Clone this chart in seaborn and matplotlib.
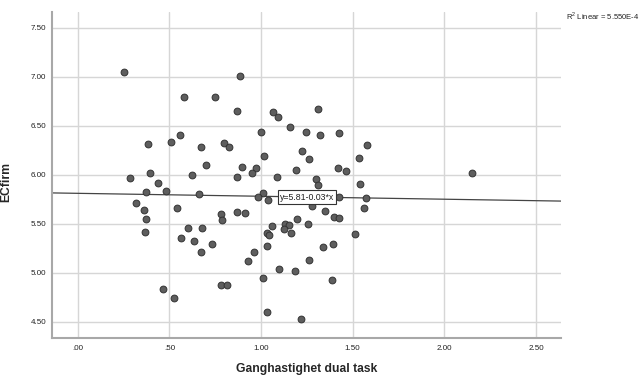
import matplotlib
matplotlib.use("Agg")
import matplotlib.pyplot as plt
import seaborn as sns
import pandas as pd

# Walking speed under dual task vs. ECfirm score
gait_speed = [
    0.251, 0.578, 0.751, 0.885, 0.869, 1.066, 1.094, 1.309, 1.160, 1.000,
    1.247, 1.324, 1.426, 1.579, 1.537, 0.556, 0.383, 0.507, 0.672, 0.798,
    0.825, 1.222, 1.016, 1.260, 0.698, 0.898, 0.971, 0.949, 1.193, 1.422,
    1.466, 2.153, 0.394, 0.625, 0.285, 0.869, 1.087, 1.300, 1.309, 0.439,
    1.542, 0.372, 0.481, 0.660, 1.013, 0.982, 1.040, 1.426, 1.573, 0.319,
    0.361, 0.540, 1.277, 1.561, 1.349, 0.371, 0.780, 0.789, 0.867, 0.913,
    1.400, 1.427, 1.197, 0.368, 0.603, 0.676, 0.562, 0.634, 0.734, 0.671,
    1.062, 1.133, 1.153, 1.127, 1.258, 1.034, 1.045, 1.162, 1.511, 1.033,
    1.337, 1.395, 0.960, 0.929, 1.264, 1.098, 1.186, 1.009, 1.389, 0.782,
    0.814, 0.463, 0.525, 1.034, 1.217,
]
ecfirm = [
    7.051, 6.793, 6.796, 7.004, 6.650, 6.640, 6.586, 6.667, 6.490, 6.439,
    6.436, 6.408, 6.422, 6.306, 6.170, 6.402, 6.310, 6.337, 6.286, 6.320,
    6.286, 6.242, 6.188, 6.157, 6.096, 6.076, 6.068, 6.017, 6.051, 6.071,
    6.038, 6.020, 6.020, 5.997, 5.969, 5.973, 5.973, 5.956, 5.895, 5.915,
    5.905, 5.820, 5.837, 5.800, 5.813, 5.772, 5.739, 5.772, 5.759, 5.714,
    5.643, 5.660, 5.678, 5.663, 5.630, 5.551, 5.596, 5.535, 5.622, 5.609,
    5.568, 5.561, 5.548, 5.418, 5.459, 5.459, 5.357, 5.320, 5.296, 5.207,
    5.480, 5.497, 5.487, 5.449, 5.500, 5.408, 5.388, 5.405, 5.398, 5.269,
    5.262, 5.290, 5.208, 5.116, 5.127, 5.035, 5.014, 4.949, 4.922, 4.874,
    4.871, 4.831, 4.739, 4.602, 4.524,
]

# Linear fit
intercept = 5.81
slope = -0.03
r2_text = "R$^{2}$ Linear = 5.550E-4"

x_ticks = [0.0, 0.5, 1.0, 1.5, 2.0, 2.5]
x_tick_labels = [".00", ".50", "1.00", "1.50", "2.00", "2.50"]
y_ticks = [4.5, 5.0, 5.5, 6.0, 6.5, 7.0, 7.5]
y_tick_labels = ["4.50", "5.00", "5.50", "6.00", "6.50", "7.00", "7.50"]

df = pd.DataFrame({"Ganghastighet dual task": gait_speed, "ECfirm": ecfirm})

sns.set_style("white")
plt.rcParams["font.family"] = ["Liberation Sans", "DejaVu Sans"]
plt.rcParams["mathtext.fontset"] = "custom"
plt.rcParams["mathtext.rm"] = "Liberation Sans"

fig = plt.figure(figsize=(6.39, 3.79), dpi=100)
ax = fig.add_axes([52 / 639, 1 - 338 / 379, (561 - 52) / 639, (338 - 12) / 379])

ax.set_xlim(-0.141, 2.637)
ax.set_ylim(4.334, 7.66)

ax.set_xticks(x_ticks)
ax.set_xticklabels(x_tick_labels)
ax.set_yticks(y_ticks)
ax.set_yticklabels(y_tick_labels)
ax.tick_params(axis="both", length=0, labelsize=5.8, colors="#222222")
ax.tick_params(axis="y", pad=4)
ax.tick_params(axis="x", pad=5)

ax.grid(True, color="#d6d6d6", linewidth=1.0)
ax.set_axisbelow(True)

for side in ["top", "right"]:
    ax.spines[side].set_visible(False)
for side in ["left", "bottom"]:
    ax.spines[side].set_color("#a8a8a8")
    ax.spines[side].set_linewidth(1.5)

# Regression line across the whole axis
ax.axline((0, intercept), slope=slope, color="#444444", linewidth=0.9, zorder=2)

sns.scatterplot(
    data=df, x="Ganghastighet dual task", y="ECfirm", ax=ax,
    s=24, color="#5e5e5e", edgecolor="#333333", linewidth=0.7, zorder=3,
)

# Equation label sitting on the fit line
lx = 1.25
ax.text(
    lx, intercept + slope * lx, "y=5.81-0.03*x",
    fontsize=6.3, ha="center", va="center", color="#222222", zorder=4,
    bbox=dict(boxstyle="square,pad=0.25", facecolor="white",
              edgecolor="#333333", linewidth=0.8),
)

ax.set_xlabel("Ganghastighet dual task", fontsize=8.7, fontweight="bold")
ax.set_ylabel("ECfirm", fontsize=8.7, fontweight="bold")
ax.xaxis.set_label_coords(0.5, -0.077)
ax.yaxis.set_label_coords(-0.079, 0.48)

fig.text(566 / 639, 1 - 16 / 379, r2_text, fontsize=5.5, ha="left",
         va="center", color="#222222")

fig.savefig("out.png", dpi=100)
